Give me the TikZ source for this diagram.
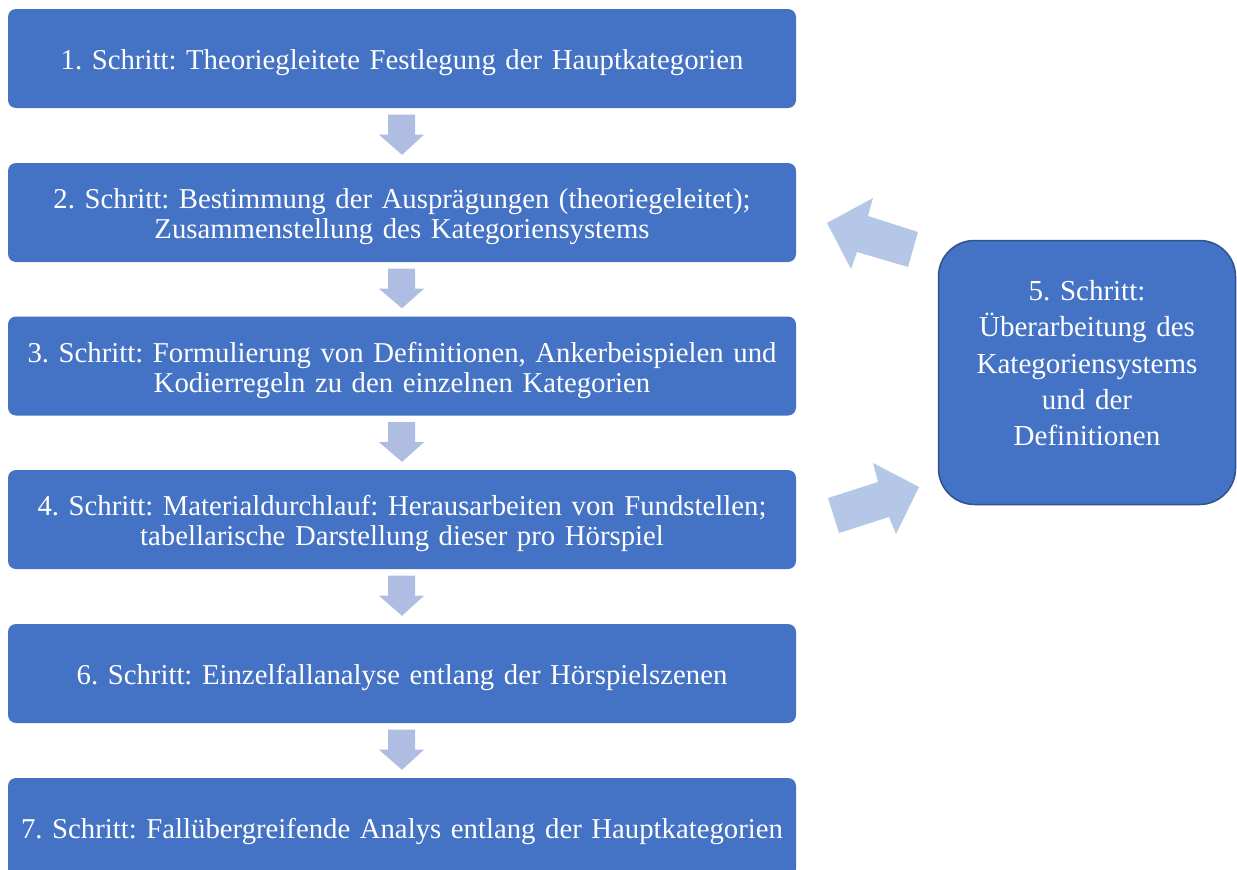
\documentclass[tikz,border=0pt]{standalone}
\usepackage{fontspec}
\setmainfont{Liberation Serif}
\usetikzlibrary{calc}
\frenchspacing
\definecolor{boxblue}{HTML}{4472C4}
\definecolor{boxedge}{HTML}{2F528F}
\definecolor{arrdown}{HTML}{B0BDE2}
\definecolor{arrdiag}{HTML}{B4C7E7}
\tikzset{
  stepbox/.style={rectangle, rounded corners=8pt, fill=boxblue, draw=none,
    minimum width=788pt, minimum height=99pt, text width=785pt, align=center,
    text=white, font=\fontsize{28.75}{30}\selectfont, inner sep=0pt,
    execute at begin node={\rule{0pt}{29pt}}},
  sidebox/.style={rectangle, rounded corners=36pt, fill=boxblue, draw=boxedge, line width=1.5pt,
    minimum width=297pt, minimum height=264pt, text width=290pt, align=center,
    text=white, font=\fontsize{29}{36.25}\selectfont, inner sep=0pt,
    execute at end node={\rule[-19pt]{0pt}{0pt}}},
  downarr/.style={fill=arrdown, draw=none},
  diagarr/.style={fill=arrdiag, draw=none}
}
\begin{document}
\begin{tikzpicture}[x=1pt,y=-1pt]
\useasboundingbox (0,0) rectangle (1237,870);
\node[stepbox] (s1) at (402,58.5) {1. Schritt: Theoriegleitete Festlegung der Hauptkategorien};
\node[stepbox] (s2) at (402,212.5) {2. Schritt: Bestimmung der Ausprägungen (theoriegeleitet);\\Zusammenstellung des Kategoriensystems};
\node[stepbox] (s3) at (402,366) {3. Schritt: Formulierung von Definitionen, Ankerbeispielen und\\Kodierregeln zu den einzelnen Kategorien};
\node[stepbox] (s4) at (402,519.5) {4. Schritt: Materialdurchlauf: Herausarbeiten von Fundstellen;\\tabellarische Darstellung dieser pro Hörspiel};
\node[stepbox] (s6) at (402,673.5) {6. Schritt: Einzelfallanalyse entlang der Hörspielszenen};
\node[stepbox] (s7) at (402,827.5) {7. Schritt: Fallübergreifende Analys entlang der Hauptkategorien};
\node[sidebox] (s5) at (1087,372.5) {5. Schritt:\\Überarbeitung des\\Kategoriensystems\\und der\\Definitionen};
% down arrows
\foreach \a/\b in {s1/s2,s2/s3,s3/s4,s4/s6,s6/s7}{
  \path ($(\a.south)+(0,6.5)$) coordinate (t) ($(\b.north)+(0,-8)$) coordinate (p);
  \fill[downarr] ($(t)+(-14,0)$) -- ($(t)+(13,0)$) -- ($(t)+(13,20)$)
    -- ($(t)+(22,20)$) -- (p) -- ($(t)+(-23,20)$)
    -- ($(t)+(-14,20)$) -- cycle;
}
% diagonal arrows
\fill[diagarr] (918,232) -- (908,267) -- (857,252) -- (851,269) -- (827,223)
  -- (873,198) -- (868,216) -- cycle;
\fill[diagarr] (828,498) -- (839,533) -- (889,517) -- (896,534) -- (919,487)
  -- (873,463) -- (878,482) -- cycle;
\end{tikzpicture}
\end{document}
